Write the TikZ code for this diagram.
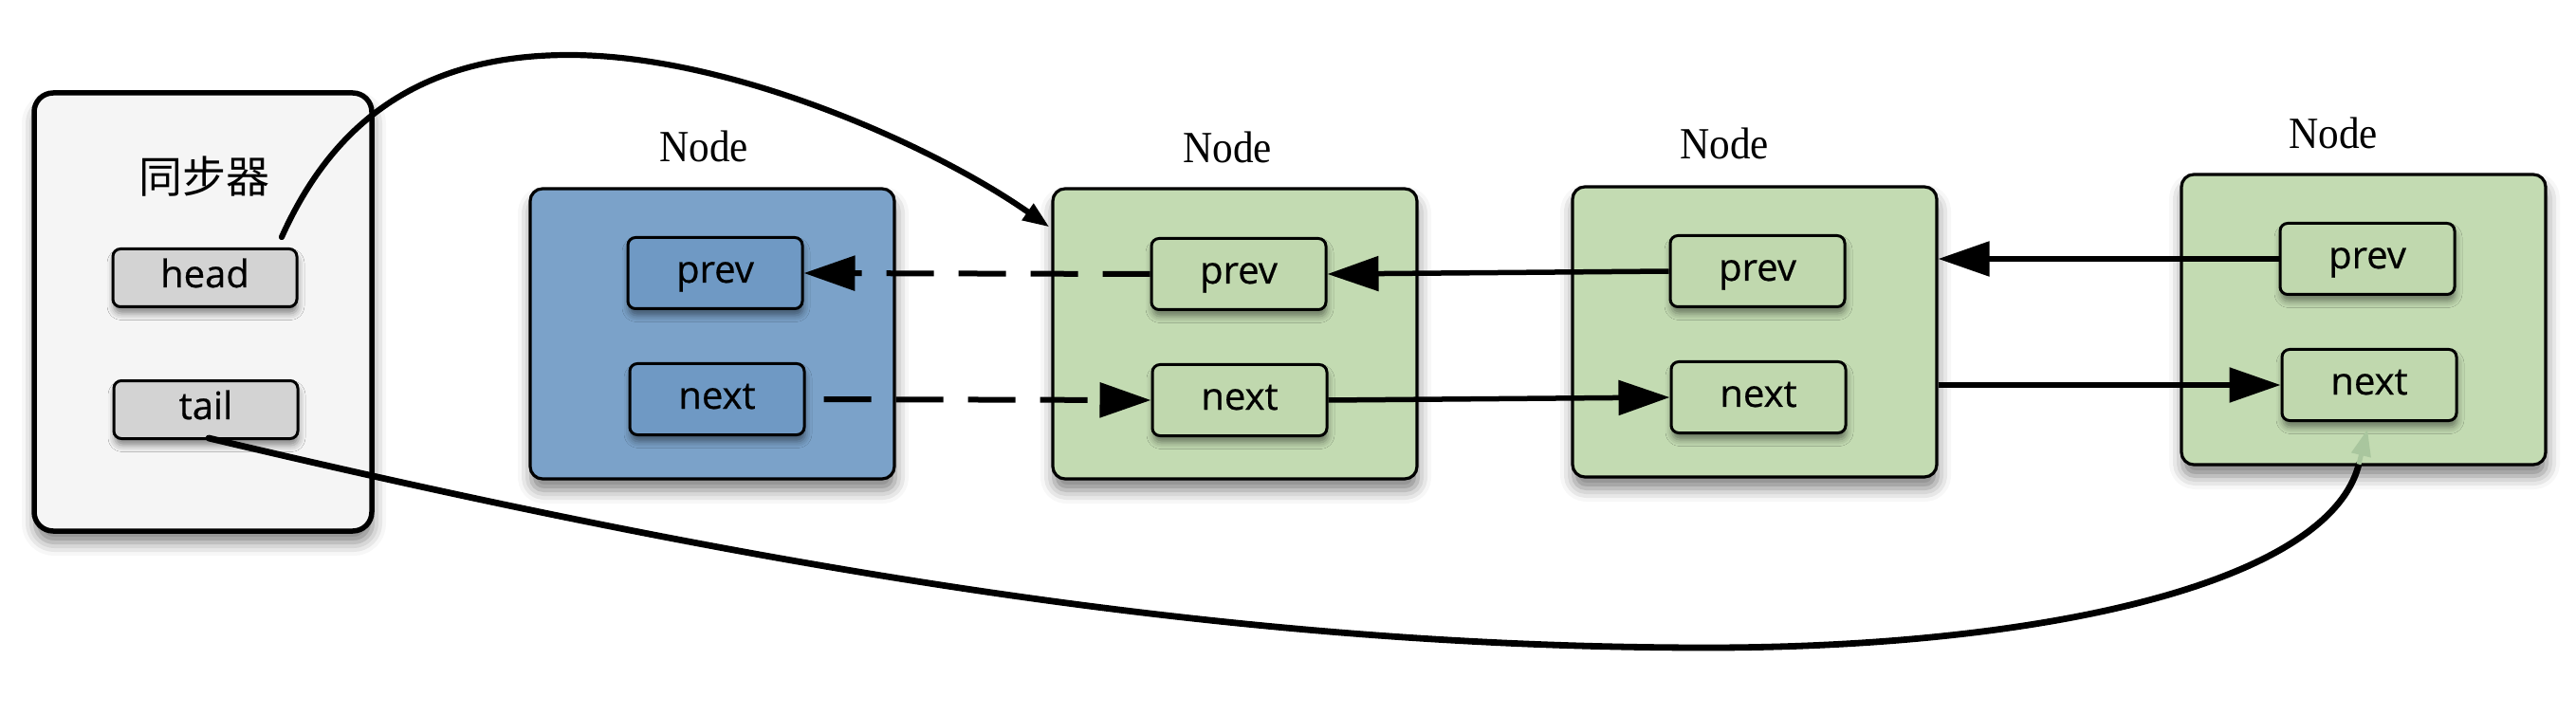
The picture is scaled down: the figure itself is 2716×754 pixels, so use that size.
\documentclass[tikz,border=0pt]{standalone}
\usepackage{fontspec}
\setmainfont{Liberation Serif}
\newfontfamily\cjkfont{Noto Sans CJK SC}
\newfontfamily\fieldfont[FakeBold=0.6]{Open Sans}
\usetikzlibrary{arrows.meta,shadows.blur,calc}
\definecolor{syncfill}{HTML}{F5F5F5}
\definecolor{fieldgray}{HTML}{D3D3D3}
\definecolor{blueout}{HTML}{7BA2C9}
\definecolor{bluein}{HTML}{6F99C4}
\definecolor{greenout}{HTML}{C3DBB2}
\definecolor{greenin}{HTML}{C0D8AE}
\definecolor{fadetip}{HTML}{A9C69E}
\begin{document}
\begin{tikzpicture}[x=0.5pt,y=-0.5pt,
  boxshadow/.style={blur shadow={shadow xshift=0.5pt,shadow yshift=-6pt,shadow blur radius=7pt,shadow opacity=50}},
  fieldshadow/.style={blur shadow={shadow xshift=0.5pt,shadow yshift=-3.5pt,shadow blur radius=3.5pt,shadow opacity=45}},
  syncbox/.style={draw=black,line width=2.75pt,fill=syncfill,rounded corners=10pt,
    minimum width=178pt,minimum height=231pt,inner sep=0pt,boxshadow},
  listbox/.style={draw=black,line width=1.6pt,rounded corners=6.5pt,
    minimum width=192pt,minimum height=153pt,inner sep=0pt,boxshadow},
  field/.style={draw=black,line width=1.5pt,rounded corners=4pt,
    minimum width=92pt,minimum height=37.5pt,inner sep=0pt,
    text height=13pt,text depth=3pt,
    font=\fieldfont\fontsize{20}{22}\selectfont,fieldshadow},
  syncfield/.style={field,fill=fieldgray,minimum width=97pt,minimum height=30.5pt},
  bluefield/.style={field,fill=bluein},
  greenfield/.style={field,fill=greenin},
  nodelabel/.style={anchor=base,inner sep=0pt,font=\fontsize{23.5}{28}\selectfont},
  solidarrow/.style={line width=2.75pt,-{Triangle[length=27pt,width=18pt]}},
  dasharrow/.style={line width=3pt,dash pattern=on 25pt off 13pt,-{Triangle[length=27pt,width=18pt]}},
  headcurve/.style={line width=3.1pt,line cap=round,-{Triangle[length=14pt,width=10pt]}},
  tailcurve/.style={line width=3.4pt,line cap=round},
  fadearrow/.style={draw=fadetip,line width=2.5pt,-{Triangle[length=14pt,width=10pt,color=fadetip]}}
]
\useasboundingbox (0,0) rectangle (2716,754);

% synchronizer
\node[syncbox] (sync) at (214,329) {};
\node[inner sep=0pt,font=\cjkfont\fontsize{23}{26}\selectfont] (title) at (215,186) {同步器};
\node[syncfield] (head) at (216,293) {head};
\node[syncfield] (tail) at (217,432) {tail};

% blue node
\node[listbox,fill=blueout] (b) at (751,352) {};
\node[nodelabel] (lb) at (742,171) {\scalebox{0.92}[1]{Node}};
\node[bluefield] (bprev) at (754,288) {prev};
\node[bluefield] (bnext) at (756,421) {next};

% green node 1
\node[listbox,fill=greenout] (g1) at (1302,352) {};
\node[nodelabel] (l1) at (1294,172) {\scalebox{0.92}[1]{Node}};
\node[greenfield] (g1prev) at (1306,289) {prev};
\node[greenfield] (g1next) at (1307,422) {next};

% green node 2
\node[listbox,fill=greenout] (g2) at (1850,350) {};
\node[nodelabel] (l2) at (1818,168) {\scalebox{0.92}[1]{Node}};
\node[greenfield] (g2prev) at (1853,286) {prev};
\node[greenfield] (g2next) at (1854,419) {next};

% green node 3
\node[listbox,fill=greenout] (g3) at (2492,337) {};
\node[nodelabel] (l3) at (2460,157) {\scalebox{0.92}[1]{Node}};
\node[greenfield] (g3prev) at (2496,273) {prev};
\node[greenfield] (g3next) at (2498,406) {next};

% links
\draw[dasharrow] (g1prev.west) -- (bprev.east);
\draw[dasharrow,shorten <=9.5pt] (bnext.east) -- (g1next.west);
\draw[solidarrow] (g2prev.west) -- (g1prev.east);
\draw[solidarrow] (g1next.east) -- (g2next.west);
\draw[solidarrow] (g3prev.west) -- (g3prev.west -| g2.east);
\draw[solidarrow] (g3next.west -| g2.east) -- (g3next.west);

% head pointer
\coordinate (hs) at ($(head.north)+(81,-11)$);
\coordinate (he) at ($(g1.north west)+(-2,42)$);
\draw[headcurve] (hs) .. controls (350,132) and (440,58) .. (600,58)
  .. controls (770,58) and (983,153) .. (he);

% tail pointer
\coordinate (ts) at ($(tail.south)+(3,-2)$);
\coordinate (tailin) at ($(g3.south)+(-5,-2)$);
\draw[tailcurve] (ts) .. controls (802,600) and (1300,683) .. (1800,683)
  .. controls (2150,683) and (2455,616) .. (tailin);
\draw[fadearrow,shorten >=4pt] (tailin) -- (g3next.south);
\end{tikzpicture}
\end{document}
